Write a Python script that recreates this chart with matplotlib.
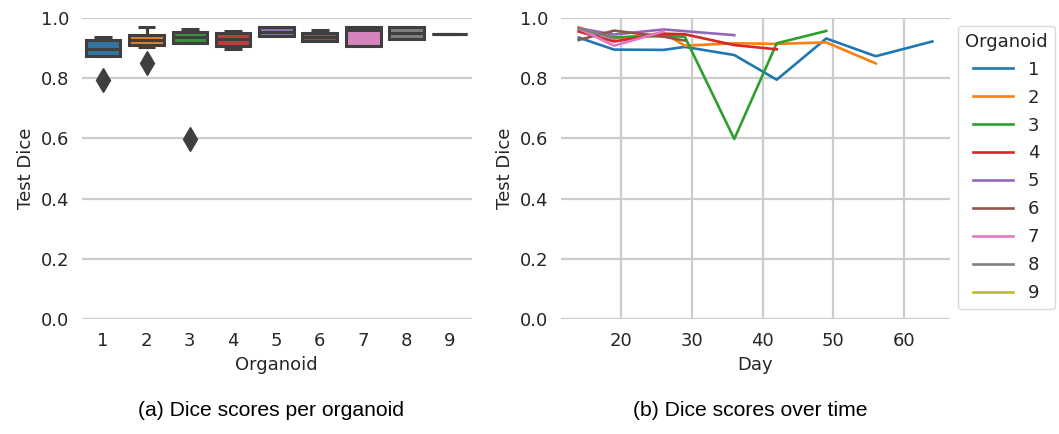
"""Dice scores per organoid (box plot) and over time (line plot)."""

import colorsys

import matplotlib

matplotlib.use("Agg")
import matplotlib.colors as mcolors
import matplotlib.pyplot as plt


# --- box plot summary (one entry per organoid) ---
organoids = [1, 2, 3, 4, 5, 6, 7, 8, 9]
box_whislo = [0.875, 0.905, 0.916, 0.896, 0.940, 0.925, 0.907, 0.930, 0.947]
box_q1 = [0.875, 0.910, 0.916, 0.908, 0.940, 0.925, 0.907, 0.930, 0.947]
box_med = [0.897, 0.927, 0.936, 0.930, 0.955, 0.938, 0.960, 0.949, 0.947]
box_q3 = [0.927, 0.943, 0.955, 0.951, 0.969, 0.949, 0.969, 0.969, 0.947]
box_whishi = [0.938, 0.971, 0.963, 0.958, 0.969, 0.960, 0.969, 0.969, 0.947]
box_outliers = [[0.794], [0.849], [0.598], [], [], [], [], [], []]

# --- dice over time ---
days_1 = [14, 19, 26, 29, 36, 42, 49, 56, 64]
dice_1 = [0.935, 0.895, 0.894, 0.904, 0.877, 0.795, 0.932, 0.873, 0.922]
days_2 = [14, 19, 26, 29, 36, 42, 49, 56]
dice_2 = [0.969, 0.932, 0.950, 0.908, 0.916, 0.914, 0.919, 0.849]
days_3 = [14, 19, 26, 29, 36, 42, 49]
dice_3 = [0.962, 0.936, 0.940, 0.938, 0.598, 0.916, 0.957]
days_4 = [14, 19, 26, 29, 36, 42]
dice_4 = [0.955, 0.922, 0.948, 0.946, 0.910, 0.896]
days_5 = [14, 19, 26, 36]
dice_5 = [0.966, 0.945, 0.962, 0.943]
days_6 = [14, 19, 26, 29]
dice_6 = [0.927, 0.958, 0.938, 0.925]
days_7 = [14, 19, 26]
dice_7 = [0.965, 0.908, 0.955]
days_8 = [14, 19]
dice_8 = [0.966, 0.932]
days_9 = [14]
dice_9 = [0.947]

days = [days_1, days_2, days_3, days_4, days_5, days_6, days_7, days_8, days_9]
dice = [dice_1, dice_2, dice_3, dice_4, dice_5, dice_6, dice_7, dice_8, dice_9]

palette = plt.get_cmap("tab10").colors
TEXT = "#262626"
EDGE = "#3f3f3f"
GRID = "#cccccc"


def desaturate(color, prop=0.75):
    h, l, s = colorsys.rgb_to_hls(*mcolors.to_rgb(color))
    return colorsys.hls_to_rgb(h, l, s * prop)


def style_axes(ax):
    for spine in ax.spines.values():
        spine.set_visible(False)
    ax.tick_params(length=0, labelsize=13, colors=TEXT, pad=9)
    ax.set_ylim(0, 1)
    ax.set_yticks([0.0, 0.2, 0.4, 0.6, 0.8, 1.0])
    ax.set_axisbelow(True)


fig = plt.figure(figsize=(10.59, 4.34), dpi=100)
ax1 = fig.add_axes([81.5 / 1059, 1 - 319 / 434, 390 / 1059, 301 / 434])
ax2 = fig.add_axes([561 / 1059, 1 - 319 / 434, 389 / 1059, 301 / 434])

# (a) box plot
stats = []
for i, org in enumerate(organoids):
    stats.append({
        "med": box_med[i], "q1": box_q1[i], "q3": box_q3[i],
        "whislo": box_whislo[i], "whishi": box_whishi[i],
        "fliers": box_outliers[i], "label": str(org),
    })
line_kw = {"color": EDGE, "linewidth": 2.2, "solid_capstyle": "butt"}
bp = ax1.bxp(
    stats, positions=range(len(organoids)), widths=0.8, patch_artist=True,
    boxprops={"edgecolor": EDGE, "linewidth": 2.2},
    medianprops=line_kw, whiskerprops=line_kw, capprops=line_kw,
    flierprops={"marker": "d", "markersize": 12, "markerfacecolor": EDGE,
                "markeredgecolor": EDGE},
)
for patch, color in zip(bp["boxes"], palette):
    patch.set_facecolor(desaturate(color))
ax1.set_xlim(-0.5, len(organoids) - 0.5)
style_axes(ax1)
ax1.grid(axis="y", color=GRID, linewidth=1.6)
ax1.grid(axis="x", visible=False)
ax1.set_xlabel("Organoid", fontsize=13, color=TEXT, labelpad=5)
ax1.set_ylabel("Test Dice", fontsize=13, color=TEXT)

# (b) line plot
for org, x, y, color in zip(organoids, days, dice, palette):
    ax2.plot(x, y, color=color, linewidth=1.9, label=str(org))
ax2.set_xlim(11.5, 66.5)
ax2.set_xticks([20, 30, 40, 50, 60])
style_axes(ax2)
ax2.grid(True, color=GRID, linewidth=1.6)
ax2.set_xlabel("Day", fontsize=13, color=TEXT, labelpad=5)
ax2.set_ylabel("Test Dice", fontsize=13, color=TEXT)
leg = ax2.legend(title="Organoid", loc="upper left", bbox_to_anchor=(1.02, 0.975),
                 fontsize=13, title_fontsize=13, frameon=True, handlelength=2.2,
                 labelspacing=0.55, borderaxespad=0.0)
leg.get_frame().set_edgecolor("#d0d0d0")
for text in leg.get_texts():
    text.set_color(TEXT)
leg.get_title().set_color(TEXT)

fig.text(271 / 1059, 1 - 411 / 434, "(a) Dice scores per organoid",
         ha="center", va="center", fontsize=15.2, family="Liberation Sans")
fig.text(750 / 1059, 1 - 411 / 434, "(b) Dice scores over time",
         ha="center", va="center", fontsize=15.2, family="Liberation Sans")

fig.savefig("out.png", dpi=100)
